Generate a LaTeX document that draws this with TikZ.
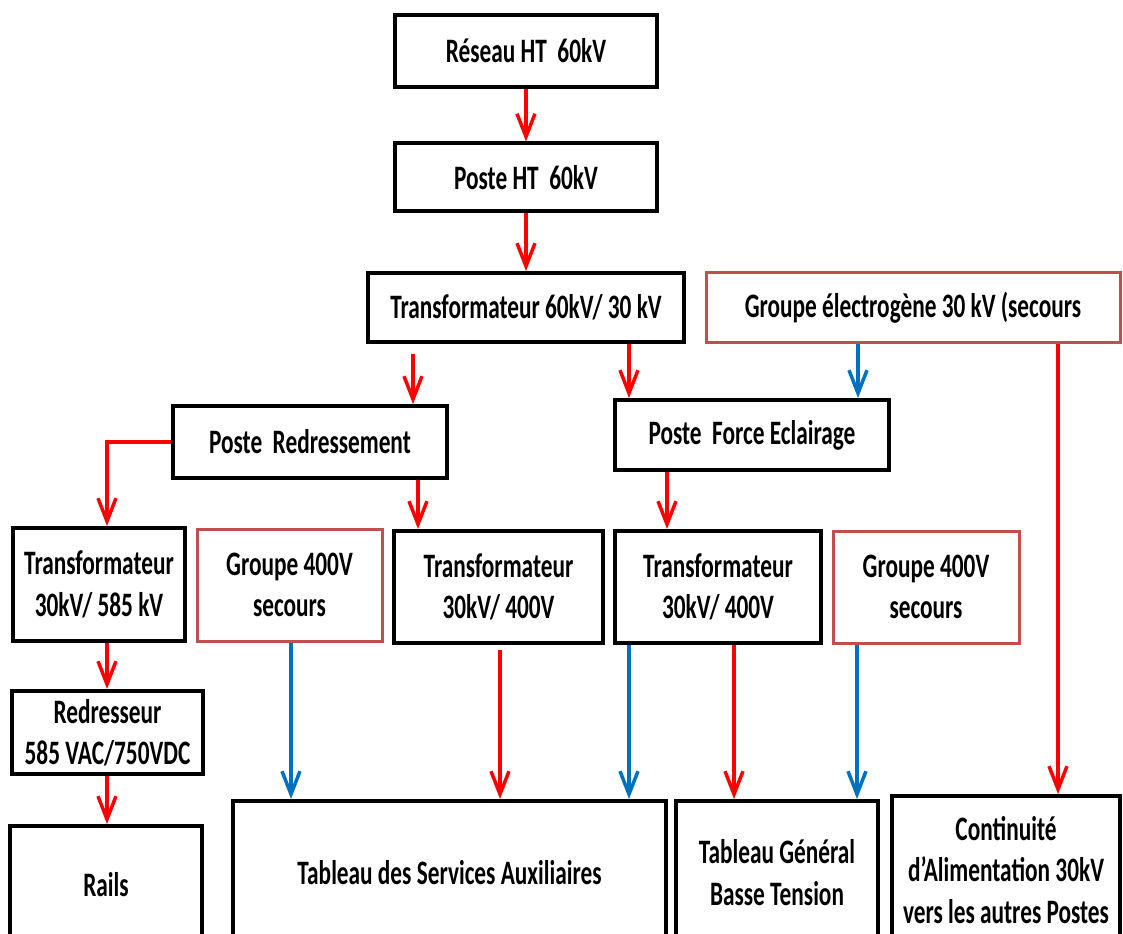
\documentclass[tikz,border=0pt]{standalone}
\usepackage{fontspec}
\setmainfont{Carlito}[FakeStretch=0.68]
\usepackage{tikz}
\usetikzlibrary{arrows.meta,positioning}
\definecolor{boxred}{RGB}{192,80,77}
\definecolor{linkblue}{RGB}{0,112,192}

\begin{document}
\begin{tikzpicture}[
    x=0.2mm, y=-0.2mm,
    bloc/.style={rectangle, draw=black, line width=0.8mm, inner sep=0pt, align=center, fill=white, font=\fontsize{19.5}{23.5}\selectfont\bfseries},
    secours/.style={bloc, draw=boxred, line width=0.6mm},
    redarrow/.style={-{Straight Barb[length=4.6mm,width=3.6mm]}, line width=0.7mm, color=red},
    bluearrow/.style={-{Straight Barb[length=4.6mm,width=3.6mm]}, line width=0.7mm, color=linkblue}
]
\useasboundingbox (0,0) rectangle (1123,934);
\clip (0,0) rectangle (1123,934);

% Haute tension
\node[bloc, minimum width=52.4mm, minimum height=14.4mm] (reseau) at (526,51) {R\'eseau HT\ \ 60kV};
\node[bloc, minimum width=52.4mm, minimum height=13.6mm] (posteht) at (526,177.5) {Poste HT\ \ 60kV};
\node[bloc, minimum width=63.2mm, minimum height=13.8mm] (transfoht) at (526,307.5) {Transformateur 60kV/ 30 kV};
\node[secours, minimum width=82.8mm, minimum height=13.8mm] (groupeelec) at (913,307.5) {Groupe \'electrog\`ene 30 kV (secours};

% Postes
\node[bloc, minimum width=54.8mm, minimum height=14.4mm] (redress) at (310,442) {Poste\ \ Redressement};
\node[bloc, minimum width=54.8mm, minimum height=14mm] (force) at (752,435) {Poste\ \ Force Eclairage};

% Transformateurs et groupes
\node[bloc, minimum width=34.4mm, minimum height=22.6mm] (transfored) at (99,584.5) {Transformateur\\30kV/ 585 kV};
\node[secours, minimum width=37mm, minimum height=22.4mm] (groupea) at (289.5,585) {Groupe 400V\\secours};
\node[bloc, minimum width=41.8mm, minimum height=22.4mm] (transfoa) at (498.5,587) {Transformateur\\30kV/ 400V};
\node[bloc, minimum width=41.2mm, minimum height=22.4mm] (transfob) at (718,587) {Transformateur\\30kV/ 400V};
\node[secours, minimum width=37.2mm, minimum height=22.4mm] (groupeb) at (926,587) {Groupe 400V\\secours};
\node[bloc, minimum width=38.2mm, minimum height=16.6mm] (redresseur) at (107.5,732.5) {Redresseur\\585 VAC/750VDC};

% Tableaux
\node[bloc, minimum width=38.4mm, minimum height=23.6mm] (rails) at (106,885) {Rails};
\node[bloc, minimum width=86.6mm, minimum height=28.6mm] (tabsa) at (449.5,872.5) {Tableau des Services Auxiliaires};
\node[bloc, minimum width=40.4mm, minimum height=28.6mm] (tabgbt) at (777,872.5) {Tableau G\'en\'eral\\Basse Tension};
\node[bloc, minimum width=45.6mm, minimum height=29.6mm] (continuite) at (1006,870) {Continuit\'e\\d'Alimentation 30kV\\vers les autres Postes};

% Liaisons principales
\draw[redarrow] (reseau) -- (posteht);
\draw[redarrow] (posteht) -- (transfoht);
\draw[redarrow, shorten <=2mm] (transfoht.south -| 413,0) -- (redress.north -| 413,0);
\draw[redarrow] (transfoht.south -| 629,0) -- (force.north -| 629,0);
\draw[bluearrow] (groupeelec.south -| 858,0) -- (force.north -| 858,0);
\draw[redarrow] (groupeelec.south -| 1058,0) -- (continuite.north -| 1058,0);

% Redressement
\draw[redarrow] (redress.west) -| (transfored.north -| 107,0);
\draw[redarrow] (redress.south -| 418,0) -- (transfoa.north -| 418,0);
\draw[redarrow] (transfored.south -| 107,0) -- (redresseur.north -| 107,0);
\draw[redarrow] (redresseur.south -| 107,0) -- (rails.north -| 107,0);

% Force Eclairage
\draw[redarrow] (force.south -| 667,0) -- (transfob.north -| 667,0);

% Services auxiliaires et basse tension
\draw[bluearrow] (groupea.south -| 291,0) -- (tabsa.north -| 291,0);
\draw[redarrow, shorten <=1mm] (transfoa.south -| 500,0) -- (tabsa.north -| 500,0);
\draw[bluearrow] (transfob.south -| 629,0) -- (tabsa.north -| 629,0);
\draw[redarrow] (transfob.south -| 734,0) -- (tabgbt.north -| 734,0);
\draw[bluearrow] (groupeb.south -| 857,0) -- (tabgbt.north -| 857,0);

\end{tikzpicture}
\end{document}
